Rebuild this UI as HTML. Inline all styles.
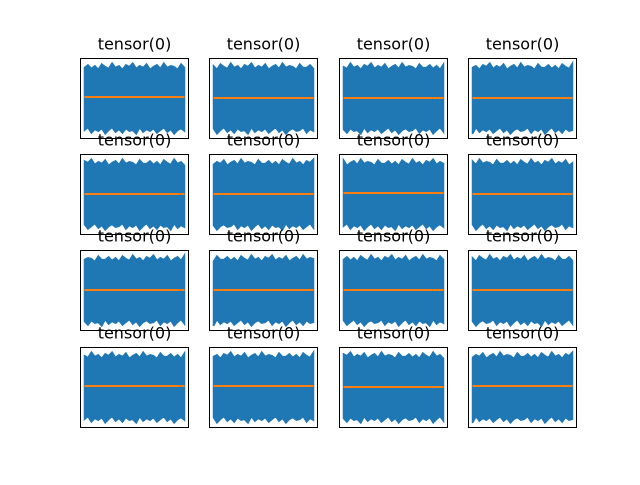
<!DOCTYPE html>
<html><head><meta charset="utf-8"><style>
body{margin:0;background:#fff}
svg text{font-family:"DejaVu Sans","Liberation Sans",sans-serif}
</style></head><body>
<svg id="fig" width="640" height="480" viewBox="0 0 640 480">
<rect width="640" height="480" fill="#fff"/>
</svg>
<script>
const titles = ["tensor(0)","tensor(0)","tensor(0)","tensor(0)","tensor(0)","tensor(0)","tensor(0)","tensor(0)","tensor(0)","tensor(0)","tensor(0)","tensor(0)","tensor(0)","tensor(0)","tensor(0)","tensor(0)"];
const means = [0.15,0.05,0.05,0.05,0.05,0.05,0.15,0.05,0.05,0.05,0.1,0.05,0.15,0.15,0.1,0.15];
const upperEnv = [3.4,3.7,3.3,3.6,3.2,3.8,3.5,3.3,3.9,3.4,3.6,3.2,3.7,3.5,3.9,3.3,3.6,3.4,3.8,3.2,3.5,3.7,3.3,3.9,3.4,3.6,3.5,3.2,3.8,3.4];
const lowerEnv = [-3.5,-3.2,-3.8,-3.4,-3.6,-3.3,-3.9,-3.5,-3.2,-3.7,-3.4,-3.8,-3.3,-3.6,-3.5,-3.9,-3.2,-3.7,-3.4,-3.6,-3.3,-3.8,-3.5,-3.2,-3.7,-3.4,-3.9,-3.5,-3.3,-3.6];
const svg = document.getElementById('fig');
const NS = "http://www.w3.org/2000/svg";
const colX = [80.5,209.5,339.5,468.5], rowY = [58.5,154.5,250.5,347.5], W = 108, H = 80;
function mk(t){return document.createElementNS(NS,t);}
for(let i=0;i<16;i++){
  const x0 = colX[i%4], y0 = rowY[Math.floor(i/4)];
  const n = upperEnv.length;
  const sx = k => x0 + 4 + k*(100/(n-1));
  const sy = v => y0 + H/2 - v*(H/8.8);
  const g = mk('g');
  
  
  let pts = [];
  for(let k=0;k<n;k++){const j=(k+i*3)%n; pts.push(sx(k)+','+sy(upperEnv[j]));}
  for(let k=n-1;k>=0;k--){const j=(k+i*5)%n; pts.push(sx(k)+','+sy(lowerEnv[j]));}
  const band = mk('polygon');
  band.setAttribute('points',pts.join(' '));
  band.setAttribute('fill','#1f77b4');
  band.setAttribute('stroke','#1f77b4');
  band.setAttribute('stroke-width','1.5');
  
  
  g.appendChild(band);
  const ly = Math.round(sy(means[i]));
  const ln = mk('line');
  ln.setAttribute('x1',x0+4); ln.setAttribute('x2',x0+104);
  ln.setAttribute('y1',ly); ln.setAttribute('y2',ly);
  ln.setAttribute('stroke','#ff7f0e'); ln.setAttribute('stroke-width','2');
  
  
  g.appendChild(ln);
  const box = mk('rect');
  box.setAttribute('x',x0); box.setAttribute('y',y0);
  box.setAttribute('width',W); box.setAttribute('height',H);
  box.setAttribute('fill','none'); box.setAttribute('stroke','#000'); box.setAttribute('stroke-width','1');
  
  
  g.appendChild(box);
  const tt = mk('text');
  tt.setAttribute('x',x0+W/2); tt.setAttribute('y',y0-9);
  tt.setAttribute('text-anchor','middle'); tt.setAttribute('font-size','16');
  tt.textContent = titles[i];
  
  
  g.appendChild(tt);
  svg.appendChild(g);
}
</script>
</body></html>
